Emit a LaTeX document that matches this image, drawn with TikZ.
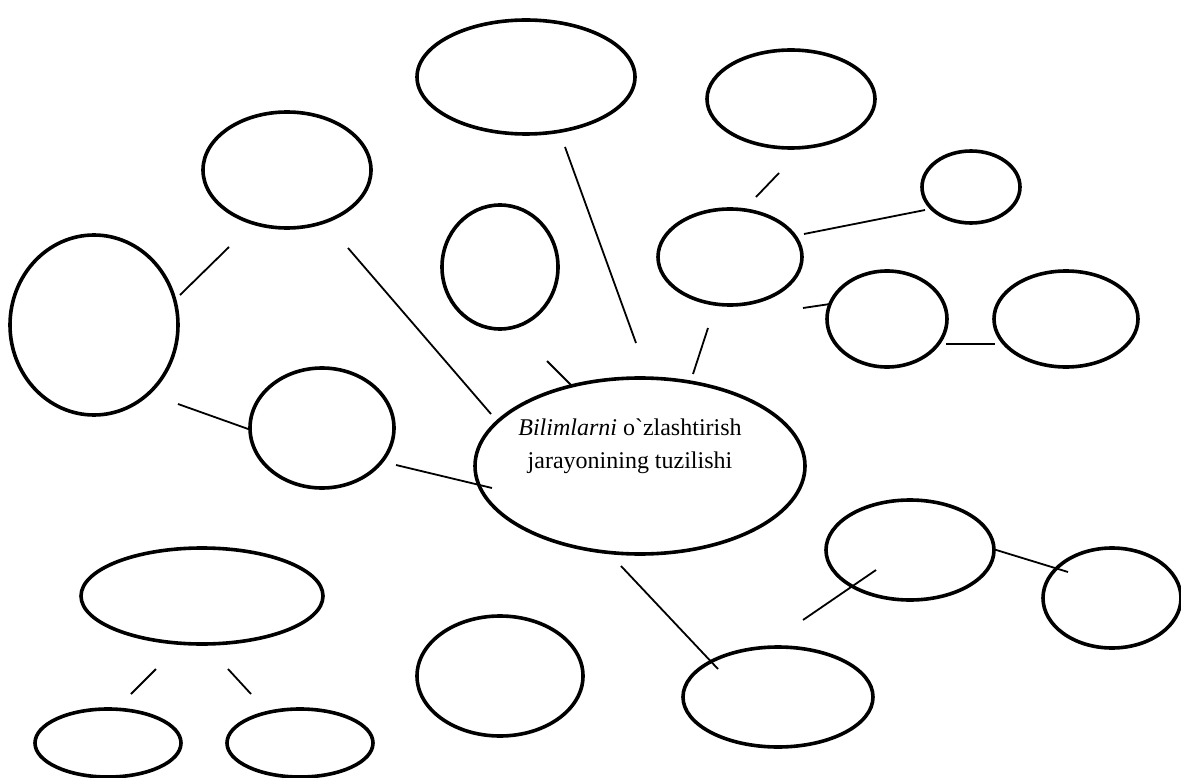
\documentclass[tikz,border=0pt]{standalone}
\usepackage{fontspec}
\setmainfont{Liberation Serif}
\newfontfamily\labelfont{Liberation Serif}
\usetikzlibrary{shapes.geometric}
\begin{document}
\begin{tikzpicture}[x=1pt,y=-1pt,
  ell/.style={draw=black,line width=3.6pt,ellipse,inner sep=0pt},
  conn/.style={draw=black,line width=1.8pt}]
\useasboundingbox (0,0) rectangle (1181,778);
\newcommand{\ellipsenode}[5]{\node[ell,minimum width=#4pt,minimum height=#5pt] (#1) at (#2,#3) {};}
\ellipsenode{topc}{526}{77}{218}{114}
\ellipsenode{topr}{791}{99}{168}{98}
\ellipsenode{smallr}{971}{187}{98}{72}
\ellipsenode{upl}{287}{170}{168}{116}
\ellipsenode{bigl}{94}{325}{168}{180}
\ellipsenode{midc}{500}{267}{116}{124}
\ellipsenode{midr}{730}{257}{144}{96}
\ellipsenode{rowa}{887}{319}{120}{96}
\ellipsenode{rowb}{1066}{319}{144}{96}
\ellipsenode{midl}{322}{428}{144}{120}
\node[ell,minimum width=330pt,minimum height=176pt] (center) at (640,466) {};
\node[font=\labelfont\fontsize{24}{33}\selectfont,align=center] (label) at (630,446) {\textit{Bilimlarni} o`zlashtirish\\jarayonining tuzilishi};
\ellipsenode{lowr}{910}{550}{168}{100}
\ellipsenode{farr}{1112}{598}{138}{100}
\ellipsenode{lowl}{202}{596}{242}{96}
\ellipsenode{botc}{500}{676}{166}{120}
\ellipsenode{botr}{778}{697}{190}{100}
\ellipsenode{bla}{108}{743}{146}{68}
\ellipsenode{blb}{300}{743}{146}{68}
% connector end points
\coordinate (a1) at (565,147); \coordinate (a2) at (636,343);
\coordinate (b1) at (779,173); \coordinate (b2) at (756,197);
\coordinate (c1) at (804,234); \coordinate (c2) at (925,210);
\coordinate (d1) at (803,308); \coordinate (d2) at (830,304);
\coordinate (e1) at (946,344); \coordinate (e2) at (995,344);
\coordinate (f1) at (708,328); \coordinate (f2) at (693,374);
\coordinate (g1) at (547,361); \coordinate (g2) at (572,386);
\coordinate (h1) at (348,248); \coordinate (h2) at (491,414);
\coordinate (i1) at (229,247); \coordinate (i2) at (180,295);
\coordinate (j1) at (178,404); \coordinate (j2) at (251,430);
\coordinate (k1) at (396,465); \coordinate (k2) at (492,488);
\coordinate (l1) at (621,566); \coordinate (l2) at (718,669);
\coordinate (m1) at (803,620); \coordinate (m2) at (876,570);
\coordinate (n1) at (993,549); \coordinate (n2) at (1068,572);
\coordinate (o1) at (156,669); \coordinate (o2) at (131,694);
\coordinate (p1) at (228,669); \coordinate (p2) at (251,694);
\foreach \s in {a,b,c,d,e,f,g,h,i,j,k,l,m,n,o,p}{\draw[conn] (\s1) -- (\s2);}
\end{tikzpicture}
\end{document}
